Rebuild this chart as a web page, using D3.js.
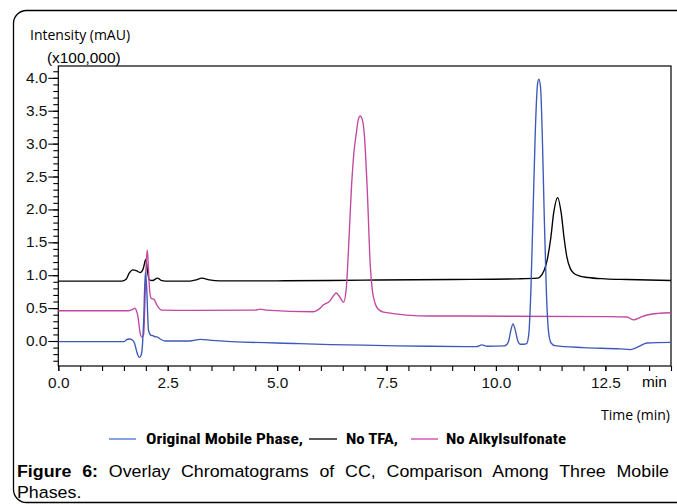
<!DOCTYPE html>
<html>
<head>
<meta charset="utf-8">
<script src="https://cdn.jsdelivr.net/npm/d3@7"></script>
<style>
  body { margin: 0; background: #fff; }
  svg { display: block; }
</style>
</head>
<body>
<div id="chart"></div>
<script>
// Series: [time (min), intensity (x100,000 mAU)]
const originalPhase = [
  [0, -0.01], [1.5, -0.01], [1.56, 0.02], [1.62, 0.03], [1.68, 0.02], [1.74, -0.03],
  [1.8, -0.18], [1.85, -0.25], [1.89, -0.22], [1.92, -0.09], [1.95, 0.3], [1.99, 1.05],
  [2.02, 0.8], [2.06, 0.17], [2.11, 0.09], [2.16, 0.08], [2.21, 0.065], [2.27, 0.06],
  [2.33, 0.03], [2.44, 0.0], [3.0, 0.0], [3.25, 0.025], [3.5, 0.01], [5.5, -0.04],
  [8.5, -0.08], [9.55, -0.085], [9.68, -0.06], [9.8, -0.08], [10.2, -0.075], [10.28, -0.02],
  [10.34, 0.16], [10.39, 0.26], [10.44, 0.17], [10.5, 0.0], [10.56, -0.05], [10.63, -0.05],
  [10.7, -0.04], [10.75, 0.1], [10.8, 0.8], [10.85, 2.0], [10.9, 3.2], [10.95, 3.9],
  [10.98, 3.98], [11.02, 3.85], [11.06, 3.1], [11.1, 2.0], [11.15, 0.8], [11.2, 0.15],
  [11.26, -0.03], [11.35, -0.07], [12.0, -0.1], [12.84, -0.12], [13.07, -0.13],
  [13.25, -0.09], [13.45, -0.03], [14.0, -0.02]
];

const noTFA = [
  [0, 0.91], [1.45, 0.91], [1.55, 0.94], [1.62, 1.03], [1.7, 1.08], [1.78, 1.07],
  [1.87, 1.04], [1.94, 1.1], [2.0, 1.24], [2.04, 1.05], [2.08, 0.93], [2.15, 0.92],
  [2.27, 0.955], [2.35, 0.92], [2.45, 0.91], [3.0, 0.91], [3.15, 0.93], [3.28, 0.955],
  [3.45, 0.93], [3.7, 0.915], [5, 0.915], [7, 0.925], [9, 0.935], [10.5, 0.945],
  [10.95, 0.955], [11.0, 0.97], [11.1, 1.07], [11.17, 1.23], [11.25, 1.55], [11.32, 1.95],
  [11.41, 2.18], [11.49, 1.95], [11.56, 1.55], [11.62, 1.28], [11.7, 1.1], [11.78, 1.03],
  [11.9, 0.99], [12.1, 0.965], [12.5, 0.945], [13, 0.935], [14, 0.92]
];

const noAlkylsulfonate = [
  [0, 0.46], [1.6, 0.46], [1.7, 0.48], [1.75, 0.5], [1.79, 0.45], [1.82, 0.37],
  [1.87, 0.12], [1.91, 0.06], [1.95, 0.1], [1.98, 0.6], [2.01, 1.2], [2.035, 1.38],
  [2.06, 1.1], [2.08, 0.83], [2.12, 0.65], [2.19, 0.63], [2.25, 0.55], [2.3, 0.5],
  [2.36, 0.47], [3.0, 0.465], [4.5, 0.47], [4.61, 0.485], [4.75, 0.47], [5.83, 0.445],
  [5.95, 0.48], [6.06, 0.55], [6.21, 0.61], [6.3, 0.7], [6.35, 0.73], [6.42, 0.68],
  [6.52, 0.59], [6.58, 0.8], [6.63, 1.38], [6.7, 2.35], [6.76, 2.9], [6.81, 3.16],
  [6.86, 3.38], [6.9, 3.42], [6.94, 3.38], [6.99, 3.16], [7.06, 2.29], [7.13, 1.13],
  [7.18, 0.75], [7.24, 0.57], [7.3, 0.49], [7.43, 0.44], [8.5, 0.38], [9.2, 0.38],
  [12.5, 0.37], [12.99, 0.365], [13.15, 0.32], [13.3, 0.36], [13.45, 0.395],
  [13.7, 0.42], [14, 0.43]
];

const seriesNames = ["Original Mobile Phase,", "No TFA,", "No Alkylsulfonate"];
const seriesColors = ["#3d58b8", "#000000", "#c2479f"];
const legendColors = ["#4a70d4", "#000000", "#d040a8"];

const xTickValues = [0, 2.5, 5, 7.5, 10, 12.5];
const yTickValues = [0, 0.5, 1, 1.5, 2, 2.5, 3, 3.5, 4];

const W = 677, H = 504;
const plot = { left: 58.3, right: 671, top: 66, bottom: 366 };
const stretch = "scale(1.1,1)"; // the source figure is a bit wider than tall

const svg = d3.select("#chart").append("svg")
  .attr("width", W)
  .attr("height", H);

// outer rounded frame
svg.append("rect")
  .attr("x", 13.5).attr("y", 10.5)
  .attr("width", 720).attr("height", 492)
  .attr("rx", 13).attr("ry", 13)
  .attr("fill", "none")
  .attr("stroke", "#000")
  .attr("stroke-width", 1.3);

const x = d3.scaleLinear().domain([0, 14]).range([plot.left, plot.right]);
const y = d3.scaleLinear().domain([-0.38, 4.18]).range([plot.bottom, plot.top]);

// x axis: minor ticks every 0.5 min, labels every 2.5
svg.append("g")
  .attr("transform", `translate(0,${plot.bottom})`)
  .call(d3.axisBottom(x).tickValues(d3.range(0, 14.01, 0.5)).tickSize(5).tickFormat(""))
  .call(g => g.select(".domain").remove());

svg.append("g")
  .attr("transform", `translate(0,${plot.bottom})`)
  .call(d3.axisBottom(x).tickValues(xTickValues).tickSize(5).tickPadding(7).tickFormat(d3.format(".1f")))
  .call(g => g.select(".domain").remove())
  .selectAll("text")
  .attr("font-family", "'Liberation Sans', Arial, sans-serif")
  .attr("font-size", "14px")
  .attr("transform", stretch)
  .attr("fill", "#111");

// y axis: minor ticks every 0.1, labels every 0.5
svg.append("g")
  .attr("transform", `translate(${plot.left},0)`)
  .call(d3.axisLeft(y).tickValues(d3.range(-0.3, 4.11, 0.1)).tickSize(5).tickFormat(""))
  .call(g => g.select(".domain").remove());

svg.append("g")
  .attr("transform", `translate(${plot.left},0)`)
  .call(d3.axisLeft(y).tickValues(yTickValues).tickSize(10).tickPadding(0).tickFormat(d3.format(".1f")))
  .call(g => g.select(".domain").remove())
  .selectAll("text")
  .attr("font-family", "'Liberation Sans', Arial, sans-serif")
  .attr("font-size", "14px")
  .attr("transform", stretch)
  .attr("fill", "#111");

svg.selectAll(".tick line").attr("stroke", "#000").attr("stroke-width", 1.1);

// plot box
svg.append("rect")
  .attr("x", plot.left).attr("y", plot.top)
  .attr("width", plot.right - plot.left)
  .attr("height", plot.bottom - plot.top)
  .attr("fill", "none")
  .attr("stroke", "#000")
  .attr("stroke-width", 1.2);

// chromatogram traces
const line = d3.line()
  .x(d => x(d[0]))
  .y(d => y(d[1]))
  .curve(d3.curveMonotoneX);

[noTFA, noAlkylsulfonate, originalPhase].forEach(function (data) {
  const i = data === originalPhase ? 0 : data === noTFA ? 1 : 2;
  svg.append("path")
    .datum(data)
    .attr("fill", "none")
    .attr("stroke", seriesColors[i])
    .attr("stroke-width", 1.35)
    .attr("stroke-linejoin", "round")
    .attr("d", line);
});

// axis titles
svg.append("text")
  .attr("x", 30).attr("y", 40)
  .attr("font-family", "'Open Sans', sans-serif")
  .attr("font-size", "14px")
  .text("Intensity (mAU)");

svg.append("text")
  .attr("transform", `translate(47,63) ${stretch}`)
  .attr("font-family", "'Liberation Sans', Arial, sans-serif")
  .attr("font-size", "14px")
  .text("(x100,000)");

svg.append("text")
  .attr("transform", `translate(642,${plot.bottom + 21}) ${stretch}`)
  .attr("font-family", "'Liberation Sans', Arial, sans-serif")
  .attr("font-size", "14px")
  .text("min");

svg.append("text")
  .attr("x", 670).attr("y", 420)
  .attr("text-anchor", "end")
  .attr("font-family", "'Open Sans', sans-serif")
  .attr("font-size", "14px")
  .text("Time (min)");

// legend
const legendItems = [
  { x0: 109, x1: 136, tx: 146, tw: 157 },
  { x0: 309, x1: 337, tx: 346, tw: 52 },
  { x0: 411, x1: 438, tx: 446, tw: 120 }
];
legendItems.forEach(function (d, i) {
  svg.append("line")
    .attr("x1", d.x0).attr("x2", d.x1)
    .attr("y1", 439).attr("y2", 439)
    .attr("stroke", legendColors[i])
    .attr("stroke-width", 1.3);
  svg.append("text")
    .attr("x", d.tx).attr("y", 444)
    .attr("font-family", "'Liberation Sans Narrow', 'Roboto Condensed', Roboto, sans-serif")
    .attr("font-weight", "bold")
    .attr("font-size", "14.5px")
    .attr("textLength", d.tw)
    .attr("lengthAdjust", "spacingAndGlyphs")
    .text(seriesNames[i]);
});

// caption, first line justified to the frame width
const capScale = 1.08;
const cap1 = svg.append("text")
  .attr("transform", `translate(17,477) scale(${capScale},1)`)
  .attr("font-family", "'Liberation Sans', Arial, sans-serif")
  .attr("font-size", "16.5px");
cap1.append("tspan").attr("font-weight", "bold").text("Figure 6:");
cap1.append("tspan").text(" Overlay Chromatograms of CC, Comparison Among Three Mobile");
const natural = cap1.node().getComputedTextLength();
cap1.attr("word-spacing", Math.max(0, (652 / capScale - natural) / 9));

svg.append("text")
  .attr("transform", `translate(17,498) scale(${capScale},1)`)
  .attr("font-family", "'Liberation Sans', Arial, sans-serif")
  .attr("font-size", "16.5px")
  .text("Phases.");
</script>
</body>
</html>
